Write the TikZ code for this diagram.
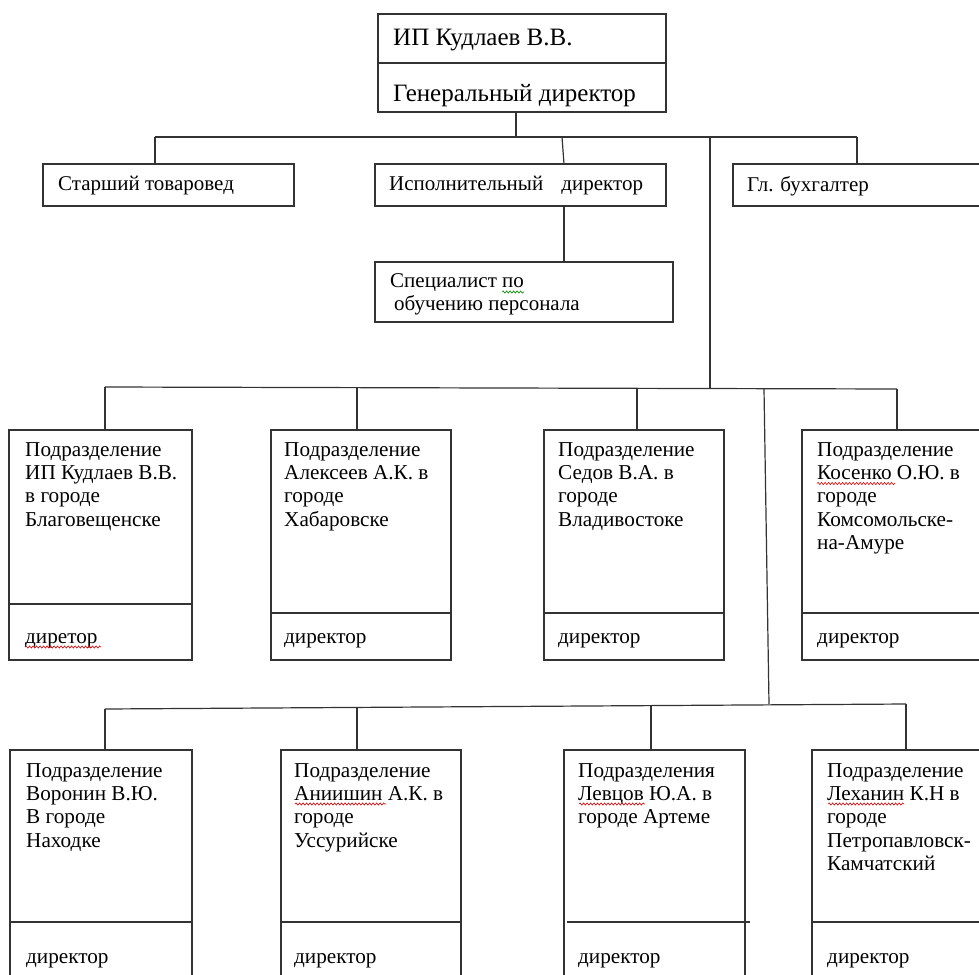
\documentclass[tikz,border=0pt]{standalone}
\usepackage{fontspec}
\setmainfont{Liberation Serif}
\usetikzlibrary{calc,decorations.pathmorphing}
\begin{document}
\begin{tikzpicture}[x=1pt,y=-1pt,
  box/.style={draw=black!80,line width=1.2pt,inner sep=0pt,outer sep=0pt,anchor=north west},
  conn/.style={draw=black!80,line width=1.2pt},
  tiertxt/.style={anchor=base west,inner sep=0pt,align=left,font=\fontsize{21.2}{23.45}\selectfont},
  midtxt/.style={anchor=base west,inner sep=0pt,align=left,font=\fontsize{21}{23.4}\selectfont},
  toptxt/.style={anchor=base west,inner sep=0pt,font=\fontsize{25}{28}\selectfont},
  wave/.style={draw=red!85!black,line width=0.6pt,decorate,decoration={snake,amplitude=1.1pt,segment length=3.5pt}},
  gwave/.style={draw=green!55!black,line width=0.6pt,decorate,decoration={snake,amplitude=1.1pt,segment length=3.5pt}}]
\useasboundingbox (0,0) rectangle (979,974);
\clip (0,0) rectangle (979,974);
\fill[white] (0,0) rectangle (979,974);

% ---- top level boxes
\node[box,minimum width=288pt,minimum height=98pt] (top) at (378,14) {};
\draw[conn] (top.west |- 0,63) -- (top.east |- 0,63);
\node[toptxt] (topa) at (393,46) {ИП Кудлаев В.В.};
\node[toptxt] (topb) at (393,101) {Генеральный директор};

\node[box,minimum width=251pt,minimum height=42pt] (tov) at (43,164) {};
\node[midtxt] (tovt) at (58,190) {Старший товаровед};
\node[box,minimum width=291pt,minimum height=42pt] (isp) at (375,164) {};
\node[midtxt] (ispt) at (389,190) {Исполнительный\hspace{13pt} директор};
\node[box,minimum width=270pt,minimum height=42pt] (buh) at (733,164) {};
\node[midtxt] (buht) at (747,191) {Гл. бухгалтер};
\node[box,minimum width=298pt,minimum height=60pt] (spec) at (375,262) {};
\node[midtxt] (spect) at (390,287) {Специалист по};
\node[midtxt] (spect2) at (394,310) {обучению персонала};
\draw[gwave] (502,292) -- (524,292);

% ---- connectors, top
\coordinate (j0) at (516,137);
\coordinate (jL) at (155,137);
\coordinate (jR) at (857,137);
\coordinate (jI) at (562,137);
\coordinate (jM) at (710,137);
\coordinate (jM2) at (710,388);
\draw[conn] (top.south -| j0) -- (j0);
\draw[conn] (jL) -- (jR);
\draw[conn] (jL) -- (tov.north -| jL);
\draw[conn] (jI) -- ([xshift=2pt]isp.north -| jI);
\draw[conn] (jR) -- (buh.north -| jR);
\draw[conn] (jM) -- (jM2);
\draw[conn] ([xshift=2pt]isp.south -| jI) -- ([xshift=2pt]spec.north -| jI);

% ---- tier 2
\node[box,minimum width=183pt,minimum height=230pt] (a1) at (9,430) {};
\draw[conn] (a1.west |- 0,604) -- (a1.east |- 0,604);
\node[box,minimum width=180pt,minimum height=230pt] (a2) at (271,430) {};
\draw[conn] (a2.west |- 0,613) -- (a2.east |- 0,613);
\node[box,minimum width=180pt,minimum height=230pt] (a3) at (544,430) {};
\draw[conn] (a3.west |- 0,613) -- (a3.east |- 0,613);
\node[box,minimum width=190pt,minimum height=230pt] (a4) at (802,430) {};
\draw[conn] (a4.west |- 0,613) -- (a4.east |- 0,613);

% multi-line nodes: base anchor is the last line (first line baseline 456)
\node[tiertxt] (a1t) at (25,526.35) {Подразделение\\ИП Кудлаев В.В.\\в городе\\Благовещенске};
\node[tiertxt] (a1d) at (25,643) {диретор};
\draw[wave] (25,647) -- (101,647);
\node[tiertxt] (a2t) at (284,526.35) {Подразделение\\Алексеев А.К. в\\городе\\Хабаровске};
\node[tiertxt] (a2d) at (284,643) {директор};
\node[tiertxt] (a3t) at (558,526.35) {Подразделение\\Седов В.А. в\\городе\\Владивостоке};
\node[tiertxt] (a3d) at (558,643) {директор};
\node[tiertxt] (a4t) at (817,549.8) {Подразделение\\Косенко О.Ю. в\\городе\\Комсомольске-\\на-Амуре};
\node[tiertxt] (a4d) at (817,643) {директор};
\draw[wave] (817,483.5) -- (895,483.5);

\coordinate (k1) at (105,387);
\coordinate (k2) at (897,389);
\draw[conn] (k1) -- (k2);
\draw[conn] (k1) -- (a1.north -| k1);
\draw[conn] (357,388) -- (a2.north -| 357,0);
\draw[conn] (637,388) -- (a3.north -| 637,0);
\draw[conn] (k2) -- (a4.north -| k2);
\coordinate (v1) at (764,389);
\coordinate (v2) at (769,704);
\draw[conn] (v1) -- (v2);

% ---- tier 3
\node[box,minimum width=182pt,minimum height=260pt] (b1) at (10,750) {};
\draw[conn] (b1.west |- 0,922) -- (b1.east |- 0,922);
\node[box,minimum width=180pt,minimum height=260pt] (b2) at (281,750) {};
\draw[conn] (b2.west |- 0,922) -- (b2.east |- 0,922);
\node[box,minimum width=181pt,minimum height=260pt] (b3) at (564,750) {};
\draw[conn] ([xshift=3pt]b3.west |- 0,922) -- ([xshift=5pt]b3.east |- 0,922);
\node[box,minimum width=190pt,minimum height=260pt] (b4) at (812,750) {};
\draw[conn] (b4.west |- 0,922) -- (b4.east |- 0,922);

% first line baseline 777
\node[tiertxt] (b1t) at (26,847.35) {Подразделение\\Воронин В.Ю.\\В городе\\Находке};
\node[tiertxt] (b1d) at (26,963) {директор};
\node[tiertxt] (b2t) at (294,847.35) {Подразделение\\Аниишин А.К. в\\городе\\Уссурийске};
\node[tiertxt] (b2d) at (294,963) {директор};
\draw[wave] (295,804) -- (386,804);
\node[tiertxt] (b3t) at (578,823.9) {Подразделения\\Левцов Ю.А. в\\городе Артеме};
\node[tiertxt] (b3d) at (578,963) {директор};
\draw[wave] (579,804) -- (645,804);
\node[tiertxt] (b4t) at (827,870.8) {Подразделение\\Леханин К.Н в\\городе\\Петропавловск-\\Камчатский};
\node[tiertxt] (b4d) at (827,963) {директор};
\draw[wave] (828,804) -- (904,804);

\coordinate (m1) at (105,709);
\coordinate (m2) at (906,704);
\draw[conn] (m1) -- (m2);
\draw[conn] (m1) -- (b1.north -| m1);
\draw[conn] (357,708) -- (b2.north -| 357,0);
\draw[conn] (651,706) -- (b3.north -| 651,0);
\draw[conn] (m2) -- (b4.north -| m2);
\end{tikzpicture}
\end{document}
